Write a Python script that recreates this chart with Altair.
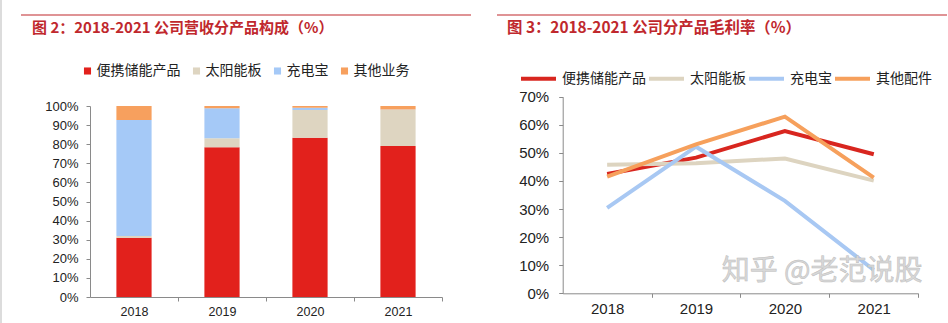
import altair as alt
import pandas as pd

# ---------------- data ----------------
years = ["2018", "2019", "2020", "2021"]

rev_products = ["便携储能产品", "太阳能板", "充电宝", "其他业务"]
rev_portable = [31.0, 78.4, 83.4, 79.0]
rev_solar = [1.0, 4.7, 14.5, 19.0]
rev_powerbank = [60.7, 15.7, 1.2, 0.2]
rev_other = [7.3, 1.2, 0.9, 1.8]

gm_products = ["便携储能产品", "太阳能板", "充电宝", "其他配件"]
gm_portable = [42.5, 48.3, 57.8, 49.5]
gm_solar = [45.8, 46.3, 48.0, 40.1]
gm_powerbank = [30.4, 52.2, 32.9, 8.3]
gm_other = [41.5, 53.0, 62.9, 41.2]

rev_ticks = [0, 0.1, 0.2, 0.3, 0.4, 0.5, 0.6, 0.7, 0.8, 0.9, 1.0]
gm_ticks = [0, 0.1, 0.2, 0.3, 0.4, 0.5, 0.6, 0.7]

title_left = "图 2：2018-2021 公司营收分产品构成（%）"
title_right = "图 3：2018-2021 公司分产品毛利率（%）"
watermark = "知乎 @老范说股"

rev_colors = ["#E2211C", "#DED5C1", "#A5C9F7", "#F7A05E"]
gm_colors = ["#D8261F", "#DDD4C0", "#A8C8F3", "#F6A05C"]

LAT = "Liberation Sans, Arial, Noto Sans CJK SC, sans-serif"
CJK = "Noto Sans CJK SC, Liberation Sans, sans-serif"
RED = "#C0282D"
AX = "#8a8a8a"

W, H = 948, 323

# plot-area frames (pixels inside the single 948x323 view)
L_X0, L_X1, L_Y0, L_Y1 = 90, 442, 106, 297
R_X0, R_X1, R_Y0, R_Y1 = 562.7, 918.2, 96.7, 293.3
lstep = (L_X1 - L_X0) / 4
rstep = (R_X1 - R_X0) / 4

# ---------------- tables ----------------
rows = []
for i, yr in enumerate(years):
    for k, (name, vals) in enumerate(zip(rev_products, [rev_portable, rev_solar, rev_powerbank, rev_other])):
        rows.append({"year": yr, "product": name, "share": vals[i] / 100.0, "k": k})
rev_df = pd.DataFrame(rows)

rows = []
for i, yr in enumerate(years):
    for k, (name, vals) in enumerate(zip(gm_products, [gm_portable, gm_solar, gm_powerbank, gm_other])):
        rows.append({"year": yr, "product": name, "margin": vals[i] / 100.0, "k": k})
gm_df = pd.DataFrame(rows)

one = pd.DataFrame({"a": [0]})

# ---------------- left: stacked bars ----------------
bars = alt.Chart(rev_df).mark_bar().encode(
    x=alt.X("year:N", sort=years, title=None,
            scale=alt.Scale(range=[L_X0, L_X1], paddingInner=0.6, paddingOuter=0.3),
            axis=alt.Axis(orient="bottom", offset=-(H - L_Y1), labelAngle=0,
                          tickOffset=lstep / 2, labelOffset=-lstep / 2,
                          tickSize=4, labelPadding=4, labelFontSize=12.5, labelFont=LAT,
                          labelColor="#222", domainColor=AX, tickColor=AX)),
    y=alt.Y("share:Q", stack="zero", title=None,
            scale=alt.Scale(domain=[0, 1], range=[L_Y1, L_Y0]),
            axis=alt.Axis(orient="left", offset=-L_X0, format=".0%", values=rev_ticks,
                          grid=False, tickSize=4, labelPadding=8, labelFontSize=13,
                          labelFont=LAT, labelColor="#222", domainColor=AX, tickColor=AX)),
    color=alt.Color("product:N", sort=rev_products,
                    scale=alt.Scale(domain=rev_products, range=rev_colors),
                    legend=alt.Legend(title=None, orient="none", direction="horizontal",
                                      legendX=80.5, legendY=64, symbolType="square",
                                      symbolSize=50, symbolStrokeWidth=0, labelFont=CJK,
                                      labelFontSize=14, labelColor="#222", columnPadding=9,
                                      labelOffset=2, padding=0)),
    order=alt.Order("k:Q"),
)

# ---------------- right: lines ----------------
lines = alt.Chart(gm_df).mark_line(strokeWidth=4).encode(
    x=alt.X("year:N", sort=years, title=None,
            scale=alt.Scale(type="band", range=[R_X0, R_X1], paddingInner=0, paddingOuter=0),
            axis=alt.Axis(orient="bottom", offset=-(H - R_Y1), labelAngle=0,
                          tickOffset=rstep / 2, labelOffset=-rstep / 2,
                          tickSize=4, labelPadding=4, labelFontSize=15, labelFont=LAT,
                          labelColor="#222", domainColor=AX, tickColor=AX)),
    y=alt.Y("margin:Q", title=None, scale=alt.Scale(domain=[0, 0.7], range=[R_Y1, R_Y0]),
            axis=alt.Axis(orient="left", offset=-R_X0, format=".0%", values=gm_ticks,
                          grid=False, tickSize=4, labelPadding=10, labelFontSize=15,
                          labelFont=LAT, labelColor="#222", domainColor=AX, tickColor=AX)),
    color=alt.Color("product:N", sort=gm_products,
                    scale=alt.Scale(domain=gm_products, range=gm_colors),
                    legend=alt.Legend(title=None, orient="none", direction="horizontal",
                                      legendX=519, legendY=59, symbolType="stroke",
                                      symbolSize=1225, symbolStrokeWidth=4, labelFont=CJK,
                                      labelFontSize=14, labelColor="#222", columnPadding=-5,
                                      labelOffset=4, padding=0)),
    order=alt.Order("k:Q"),
)

# ---------------- decorations ----------------
lrule = alt.Chart(one).mark_rule(color=RED, strokeWidth=1.2).encode(
    x=alt.value(21), x2=alt.value(471), y=alt.value(15))
rrule = alt.Chart(one).mark_rule(color=RED, strokeWidth=1.2).encode(
    x=alt.value(497), x2=alt.value(947), y=alt.value(15))
border = alt.Chart(one).mark_rule(color="#d0d0d0", strokeWidth=1.5).encode(
    x=alt.value(1), y=alt.value(0), y2=alt.value(H))
ltitle = alt.Chart(pd.DataFrame({"t": [title_left]})).mark_text(
    align="left", baseline="middle", font=CJK, fontSize=15, fontWeight="bold", color=RED
).encode(text="t:N", x=alt.value(32), y=alt.value(28))
rtitle = alt.Chart(pd.DataFrame({"t": [title_right]})).mark_text(
    align="left", baseline="middle", font=CJK, fontSize=15.4, fontWeight="bold", color=RED
).encode(text="t:N", x=alt.value(507), y=alt.value(28))
wm = alt.Chart(pd.DataFrame({"t": [watermark]})).mark_text(
    align="center", baseline="middle", font=CJK, fontSize=28, color="#d8d8d8",
    stroke="#bcbcbc", strokeWidth=0.5
).encode(text="t:N", x=alt.value(822), y=alt.value(272))

chart = alt.layer(
    bars, lines, wm, lrule, rrule, border, ltitle, rtitle
).resolve_scale(
    x="independent", y="independent", color="independent"
).properties(
    width=W, height=H,
    autosize=alt.AutoSizeParams(type="none"),
    padding=0,
    background="white",
).configure_view(stroke=None)

chart.save("out.html", embed_options={"renderer": "svg", "actions": False})
